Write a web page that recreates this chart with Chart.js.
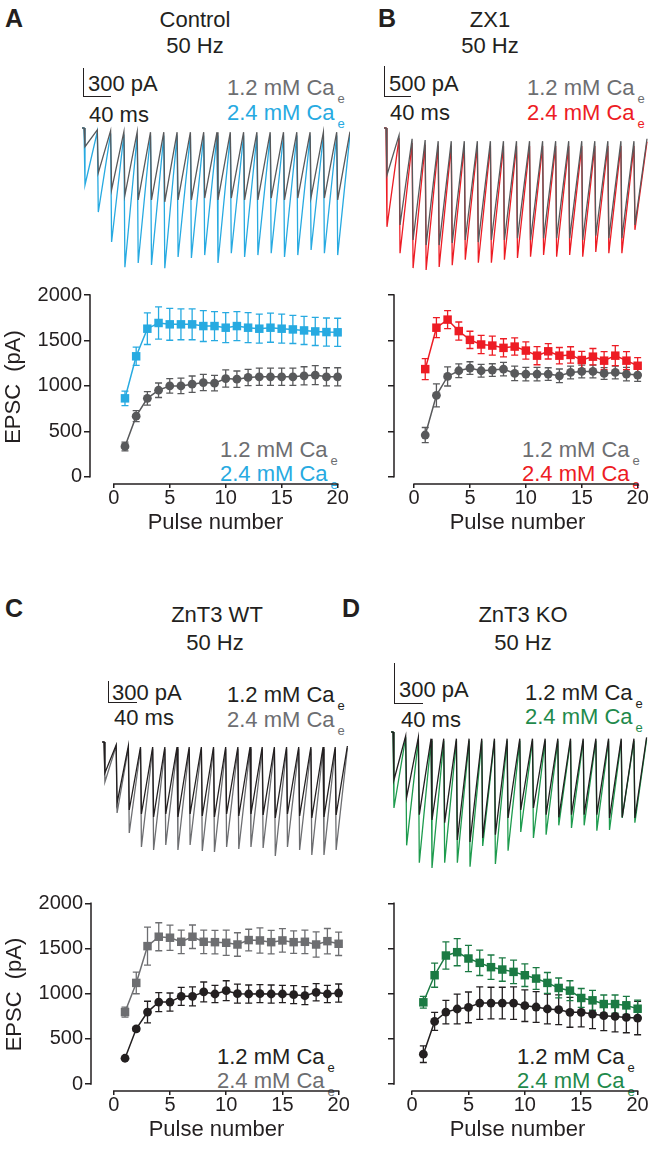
<!DOCTYPE html>
<html>
<head>
<meta charset="utf-8">
<script src="https://cdn.jsdelivr.net/npm/chart.js@4.4.0/dist/chart.umd.min.js"></script>
<style>
html, body { margin: 0; padding: 0; background: #fff; }
body { width: 652px; height: 1169px; position: relative; overflow: hidden;
       font-family: "Liberation Sans", Arial, sans-serif; color: #231f20; }
canvas { position: absolute; }
.t { position: absolute; white-space: nowrap; line-height: 1; font-size: 22px; transform: translateY(-50%); }
.c { transform: translate(-50%, -50%); }
.letter { font-weight: bold; font-size: 25px; }
.sub { font-size: 13px; position: relative; top: 8px; margin-left: 3px; }
.bar { position: absolute; border-left: 1.5px solid #231f20; border-bottom: 1.5px solid #231f20; }
</style>
</head>
<body>

<!-- panel A -->
<div class="t letter" style="left:5px;top:18px">A</div>
<div class="t c" style="left:195px;top:20px">Control</div>
<div class="t c" style="left:195px;top:46px">50 Hz</div>
<div class="bar" style="left:83px;top:68px;width:27px;height:28px"></div>
<div class="t" style="left:88px;top:84px">300 pA</div>
<div class="t" style="left:89px;top:115px">40 ms</div>
<div class="t" style="left:227px;top:88px;color:#6d6e71">1.2 mM Ca<span class="sub">e</span></div>
<div class="t" style="left:227px;top:113px;color:#27aae1">2.4 mM Ca<span class="sub">e</span></div>
<div class="t" style="left:220px;top:450px;color:#6d6e71">1.2 mM Ca<span class="sub">e</span></div>
<div class="t" style="left:220px;top:474px;color:#27aae1">2.4 mM Ca<span class="sub">e</span></div>

<!-- panel B -->
<div class="t letter" style="left:378px;top:18px">B</div>
<div class="t c" style="left:490px;top:20px">ZX1</div>
<div class="t c" style="left:490px;top:46px">50 Hz</div>
<div class="bar" style="left:384px;top:66px;width:26px;height:30px"></div>
<div class="t" style="left:389px;top:84px">500 pA</div>
<div class="t" style="left:390px;top:113px">40 ms</div>
<div class="t" style="left:527px;top:88px;color:#6d6e71">1.2 mM Ca<span class="sub">e</span></div>
<div class="t" style="left:527px;top:113px;color:#ed1c24">2.4 mM Ca<span class="sub">e</span></div>
<div class="t" style="left:522px;top:450px;color:#6d6e71">1.2 mM Ca<span class="sub">e</span></div>
<div class="t" style="left:522px;top:474px;color:#ed1c24">2.4 mM Ca<span class="sub">e</span></div>

<!-- panel C -->
<div class="t letter" style="left:5px;top:608px">C</div>
<div class="t c" style="left:217px;top:615px">ZnT3 WT</div>
<div class="t c" style="left:215px;top:643px">50 Hz</div>
<div class="bar" style="left:108px;top:681px;width:28px;height:21px"></div>
<div class="t" style="left:112px;top:693px">300 pA</div>
<div class="t" style="left:114px;top:718px">40 ms</div>
<div class="t" style="left:227px;top:695px">1.2 mM Ca<span class="sub">e</span></div>
<div class="t" style="left:227px;top:720px;color:#6d6e71">2.4 mM Ca<span class="sub">e</span></div>
<div class="t" style="left:217px;top:1057px">1.2 mM Ca<span class="sub">e</span></div>
<div class="t" style="left:217px;top:1081px;color:#6d6e71">2.4 mM Ca<span class="sub">e</span></div>

<!-- panel D -->
<div class="t letter" style="left:342px;top:608px">D</div>
<div class="t c" style="left:523px;top:615px">ZnT3 KO</div>
<div class="t c" style="left:523px;top:643px">50 Hz</div>
<div class="bar" style="left:394px;top:663px;width:28px;height:40px"></div>
<div class="t" style="left:399px;top:690px">300 pA</div>
<div class="t" style="left:401px;top:720px">40 ms</div>
<div class="t" style="left:525px;top:693px">1.2 mM Ca<span class="sub">e</span></div>
<div class="t" style="left:525px;top:717px;color:#1f8a4c">2.4 mM Ca<span class="sub">e</span></div>
<div class="t" style="left:517px;top:1057px">1.2 mM Ca<span class="sub">e</span></div>
<div class="t" style="left:517px;top:1081px;color:#1f8a4c">2.4 mM Ca<span class="sub">e</span></div>

<script>
// EPSC amplitude vs pulse number (50 Hz trains), four conditions.
const pulses = [1, 2, 3, 4, 5, 6, 7, 8, 9, 10, 11, 12, 13, 14, 15, 16, 17, 18, 19, 20];
const xTicks = [0, 5, 10, 15, 20];
const yTicks = [0, 500, 1000, 1500, 2000];

// A: control
const ctlLow     = [333, 667, 863, 952, 1000, 1000, 1019, 1037, 1030, 1081, 1074, 1093, 1100, 1100, 1100, 1100, 1111, 1119, 1100, 1100];
const ctlLowErr  = [48, 60, 75, 80, 80, 85, 90, 90, 85, 95, 90, 90, 95, 95, 95, 95, 100, 105, 100, 100];
const ctlHigh    = [863, 1326, 1630, 1693, 1678, 1678, 1678, 1659, 1659, 1641, 1659, 1641, 1630, 1641, 1630, 1622, 1611, 1600, 1593, 1590];
const ctlHighErr = [80, 100, 174, 178, 175, 170, 170, 170, 160, 165, 160, 165, 160, 160, 160, 155, 155, 155, 155, 155];

// B: ZX1
const zx1Low     = [459, 896, 1104, 1167, 1196, 1167, 1174, 1185, 1137, 1130, 1130, 1130, 1111, 1148, 1159, 1159, 1137, 1148, 1130, 1119];
const zx1LowErr  = [83, 126, 105, 75, 70, 70, 70, 75, 80, 75, 75, 70, 75, 70, 70, 70, 65, 70, 75, 70];
const zx1High    = [1185, 1641, 1730, 1604, 1507, 1456, 1444, 1419, 1433, 1389, 1333, 1381, 1333, 1341, 1285, 1322, 1278, 1333, 1278, 1222];
const zx1HighErr = [115, 110, 100, 100, 95, 100, 105, 100, 95, 95, 100, 85, 90, 90, 95, 90, 100, 110, 100, 90];

// C: ZnT3 WT
const wtLow      = [285, 611, 796, 907, 907, 970, 970, 1019, 996, 1033, 1000, 996, 1000, 996, 996, 989, 978, 1015, 996, 1007];
const wtLowErr   = [10, 25, 120, 105, 100, 100, 105, 110, 95, 110, 105, 100, 100, 100, 95, 100, 100, 95, 95, 100];
const wtHigh     = [796, 1119, 1526, 1630, 1619, 1574, 1630, 1574, 1570, 1563, 1544, 1593, 1589, 1570, 1589, 1570, 1574, 1544, 1581, 1552];
const wtHighErr  = [55, 120, 210, 155, 140, 130, 130, 130, 130, 140, 130, 120, 140, 130, 130, 125, 130, 140, 140, 130];

// D: ZnT3 KO
const koLow      = [330, 693, 796, 830, 848, 896, 896, 896, 896, 867, 852, 830, 822, 793, 793, 774, 756, 748, 737, 730];
const koLowErr   = [92, 100, 130, 165, 170, 180, 175, 175, 180, 175, 170, 165, 165, 165, 160, 160, 165, 170, 170, 185];
const koHigh     = [904, 1204, 1422, 1459, 1389, 1341, 1293, 1267, 1241, 1204, 1167, 1119, 1063, 1033, 952, 926, 885, 885, 870, 833];
const koHighErr  = [65, 133, 150, 150, 145, 140, 135, 130, 130, 125, 120, 115, 110, 110, 105, 110, 100, 100, 100, 95];

// Example traces: level before each pulse and peak of each EPSC (pA)
const isiMs = 20;      // 50 Hz
const riseMs = 1.5;
const trCtlLowBase  = [0, -20, -30, -40, -40, -45, -45, -45, -45, -45, -45, -45, -45, -45, -45, -45, -45, -45, -45, -45];
const trCtlLowPeak  = [-200, -480, -660, -720, -770, -770, -790, -770, -770, -750, -770, -750, -770, -770, -750, -770, -750, -740, -750, -770];
const trCtlHighBase = [0, -40, -60, -70, -80, -80, -80, -80, -80, -80, -80, -80, -80, -80, -80, -80, -80, -80, -80, -80];
const trCtlHighPeak = [-610, -900, -1220, -1490, -1445, -1465, -1500, -1380, -1390, -1360, -1445, -1340, -1380, -1360, -1340, -1380, -1360, -1305, -1340, -1360];

const trZxLowBase   = [0, -120, -180, -200, -220, -220, -220, -220, -220, -220, -220, -220, -220, -220, -220, -220, -220, -220, -220, -220];
const trZxLowPeak   = [-785, -1620, -1870, -1955, -1955, -1920, -1870, -1905, -1870, -1870, -1840, -1870, -1840, -1840, -1840, -1870, -1800, -1840, -1840, -1620];
const trZxHighBase  = [0, -170, -250, -280, -300, -300, -300, -300, -300, -300, -300, -300, -300, -300, -300, -300, -300, -300, -300, -300];
const trZxHighPeak  = [-1650, -2090, -2340, -2370, -2320, -2290, -2200, -2250, -2250, -2200, -2170, -2150, -2120, -2150, -2120, -2150, -2070, -2090, -2090, -1700];

const trWtLowBase   = [0, -45, -60, -75, -75, -75, -75, -75, -75, -75, -75, -75, -75, -75, -75, -75, -75, -75, -75, -75];
const trWtLowPeak   = [-465, -915, -1020, -1080, -1125, -1080, -1125, -1080, -1110, -1125, -1080, -1110, -1080, -1095, -1140, -1080, -1110, -1140, -1125, -1095];
const trWtHighBase  = [0, -60, -90, -105, -105, -105, -105, -105, -105, -105, -105, -105, -105, -105, -105, -105, -105, -105, -105, -105];
const trWtHighPeak  = [-600, -1065, -1365, -1575, -1620, -1545, -1620, -1545, -1635, -1650, -1575, -1605, -1575, -1590, -1710, -1575, -1620, -1695, -1695, -1620];

const trKoLowBase   = [0, -30, -40, -50, -50, -50, -50, -50, -50, -50, -50, -50, -50, -50, -50, -50, -50, -50, -50, -50];
const trKoLowPeak   = [-360, -490, -620, -660, -680, -810, -825, -795, -770, -645, -585, -570, -620, -640, -620, -620, -620, -645, -640, -645];
const trKoHighBase  = [0, -40, -55, -65, -65, -65, -65, -65, -65, -65, -65, -65, -65, -65, -65, -65, -65, -65, -65, -65];
const trKoHighPeak  = [-570, -850, -980, -1020, -980, -980, -1010, -855, -990, -890, -750, -795, -770, -700, -720, -700, -740, -735, -645, -680];

const ink = '#231f20';
const greyDark = '#58595b';
const greyMid = '#6d6e71';
const blue = '#27aae1';
const red = '#ed1c24';
const green = '#1b7a43';
const greenTrace = '#1e9b4e';

Chart.defaults.font.family = '"Liberation Sans", Arial, sans-serif';

function addCanvas(left, top, w, h) {
    const cv = document.createElement('canvas');
    cv.width = Math.round(w); cv.height = Math.round(h);
    cv.style.left = Math.round(left) + 'px';
    cv.style.top = Math.round(top) + 'px';
    cv.style.width = Math.round(w) + 'px';
    cv.style.height = Math.round(h) + 'px';
    document.body.appendChild(cv);
    return cv;
}

// mean +/- SEM bars, drawn under the points
const errorBars = {
    id: 'errorBars',
    beforeDatasetsDraw(chart) {
        const { ctx, scales: { x, y } } = chart;
        chart.data.datasets.forEach(ds => {
            if (!ds.errors) return;
            ctx.save();
            ctx.strokeStyle = ds.borderColor;
            ctx.lineWidth = 1.3;
            ds.data.forEach((p, i) => {
                const px = x.getPixelForValue(p.x);
                const hi = y.getPixelForValue(p.y + ds.errors[i]);
                const lo = y.getPixelForValue(p.y - ds.errors[i]);
                ctx.beginPath();
                ctx.moveTo(px, hi); ctx.lineTo(px, lo);
                ctx.moveTo(px - 3.5, hi); ctx.lineTo(px + 3.5, hi);
                ctx.moveTo(px - 3.5, lo); ctx.lineTo(px + 3.5, lo);
                ctx.stroke();
            });
            ctx.restore();
        });
    }
};

// detached axis lines, spanning only first..last tick
const axisLines = {
    id: 'axisLines',
    afterDraw(chart) {
        const { ctx, chartArea, scales: { x, y } } = chart;
        ctx.save();
        ctx.strokeStyle = ink;
        ctx.lineWidth = 1.5;
        ctx.beginPath();
        ctx.moveTo(chartArea.left, y.getPixelForValue(yTicks[0]) + 0.75);
        ctx.lineTo(chartArea.left, y.getPixelForValue(yTicks[yTicks.length - 1]) - 0.75);
        ctx.moveTo(x.getPixelForValue(xTicks[0]) - 0.75, chartArea.bottom);
        ctx.lineTo(x.getPixelForValue(xTicks[xTicks.length - 1]) + 0.75, chartArea.bottom);
        ctx.stroke();
        ctx.restore();
    }
};

function makePlot(b, sets, withLabels) {
    const yW = withLabels ? 90 : 20, padT = 20, padR = 15, xH = 50;
    const R = b.x0 + 20.3 * b.s;
    const cv = addCanvas(b.L - yW, b.top - padT, yW + (R - b.L) + padR, padT + (b.axisY - b.top) + xH);
    new Chart(cv, {
        type: 'line',
        data: {
            datasets: sets.map(st => ({
                data: pulses.map((p, i) => ({ x: p, y: st.values[i] })),
                errors: st.errors,
                borderColor: st.color, backgroundColor: st.color,
                borderWidth: 1.5,
                pointStyle: st.shape,
                pointRadius: st.shape === 'rect' ? 6 : 4.4,
                pointBorderWidth: 0,
                clip: false
            }))
        },
        options: {
            responsive: false, animation: false, events: [],
            layout: { padding: { left: 0, top: padT, right: padR, bottom: 0 } },
            plugins: { legend: { display: false }, tooltip: { enabled: false } },
            scales: {
                x: {
                    type: 'linear',
                    min: (b.L - b.x0) / b.s, max: (R - b.x0) / b.s,
                    afterBuildTicks: s => { s.ticks = xTicks.map(v => ({ value: v })); },
                    afterFit: s => { s.height = xH; },
                    border: { display: false },
                    grid: { drawOnChartArea: false, drawTicks: true, tickLength: 4, color: ink, lineWidth: 1.5 },
                    ticks: { color: ink, font: { size: 20, lineHeight: 1 }, padding: 0, autoSkip: false, maxRotation: 0,
                             callback: v => String(v) },
                    title: { display: true, text: 'Pulse number', color: ink, font: { size: 22, lineHeight: 1 }, padding: { top: 0, bottom: 0 } }
                },
                y: {
                    min: -(b.axisY - b.y0) / b.k, max: (b.y0 - b.top) / b.k,
                    afterBuildTicks: s => { s.ticks = yTicks.map(v => ({ value: v })); },
                    afterFit: s => { s.width = yW; },
                    border: { display: false },
                    grid: { drawOnChartArea: false, drawTicks: true, tickLength: 6, color: ink, lineWidth: 1.5 },
                    ticks: { color: withLabels ? ink : 'rgba(0,0,0,0)', font: { size: 20 }, padding: 2,
                             callback: v => String(v) },
                    title: { display: withLabels, text: 'EPSC  (pA)', color: ink, font: { size: 22 }, padding: { top: 1, bottom: 0 } }
                }
            }
        },
        plugins: [errorBars, axisLines]
    });
}

function tracePoints(base, peak, end) {
    const pts = [{ x: -3, y: 0 }];
    base.forEach((lvl, i) => {
        const t = i * isiMs;
        pts.push({ x: t, y: lvl }, { x: t + riseMs, y: peak[i] });
    });
    pts.push({ x: base.length * isiMs, y: end });
    return pts;
}

function makeTraces(b, traces) {
    const cv = addCanvas(b.left, b.top, b.right - b.left, b.bottom - b.top);
    new Chart(cv, {
        type: 'line',
        data: {
            datasets: traces.map(tr => ({
                data: tracePoints(tr.base, tr.peak, tr.end),
                borderColor: tr.color, borderWidth: 1.3,
                pointRadius: 0, tension: 0, clip: false
            }))
        },
        options: {
            responsive: false, animation: false, events: [],
            layout: { padding: 0 },
            plugins: { legend: { display: false }, tooltip: { enabled: false } },
            scales: {
                x: { type: 'linear', display: false, min: (b.left - b.t0) / b.pxMs, max: (b.right - b.t0) / b.pxMs },
                y: { display: false, min: -(b.bottom - b.y0) / b.pxPA, max: (b.y0 - b.top) / b.pxPA }
            }
        }
    });
}

// ---- traces (1.2 mM listed first so it is drawn on top)
makeTraces({ left: 78, right: 350, top: 120, bottom: 275, t0: 84, pxMs: 0.665, y0: 128, pxPA: 1 / 10.7 }, [
    { base: trCtlLowBase, peak: trCtlLowPeak, end: -40, color: greyDark },
    { base: trCtlHighBase, peak: trCtlHighPeak, end: -70, color: blue }
]);
makeTraces({ left: 378, right: 650, top: 120, bottom: 275, t0: 386, pxMs: 0.6525, y0: 128, pxPA: 1 / 16.7 }, [
    { base: trZxLowBase, peak: trZxLowPeak, end: -180, color: greyDark },
    { base: trZxHighBase, peak: trZxHighPeak, end: -230, color: red }
]);
makeTraces({ left: 96, right: 348, top: 734, bottom: 865, t0: 104, pxMs: 0.6085, y0: 742, pxPA: 1 / 15 }, [
    { base: trWtLowBase, peak: trWtLowPeak, end: -60, color: ink },
    { base: trWtHighBase, peak: trWtHighPeak, end: -90, color: greyMid }
]);
makeTraces({ left: 386, right: 648, top: 724, bottom: 875, t0: 393, pxMs: 0.634, y0: 732, pxPA: 1 / 7.5 }, [
    { base: trKoLowBase, peak: trKoLowPeak, end: -40, color: ink },
    { base: trKoHighBase, peak: trKoHighPeak, end: -55, color: greenTrace }
]);

// ---- summary plots
makePlot({ L: 90, x0: 113.8, s: 11.2, top: 290, y0: 476.7, k: 0.0908, axisY: 484 }, [
    { values: ctlLow, errors: ctlLowErr, color: greyDark, shape: 'circle' },
    { values: ctlHigh, errors: ctlHighErr, color: blue, shape: 'rect' }
], true);
makePlot({ L: 394, x0: 414.1, s: 11.2, top: 290, y0: 476.7, k: 0.0908, axisY: 484 }, [
    { values: zx1Low, errors: zx1LowErr, color: greyDark, shape: 'circle' },
    { values: zx1High, errors: zx1HighErr, color: red, shape: 'rect' }
], false);
makePlot({ L: 91, x0: 113.8, s: 11.25, top: 898, y0: 1084, k: 0.09035, axisY: 1091 }, [
    { values: wtLow, errors: wtLowErr, color: ink, shape: 'circle' },
    { values: wtHigh, errors: wtHighErr, color: greyMid, shape: 'rect' }
], true);
makePlot({ L: 394, x0: 412.1, s: 11.3, top: 898, y0: 1084, k: 0.09035, axisY: 1091 }, [
    { values: koLow, errors: koLowErr, color: ink, shape: 'circle' },
    { values: koHigh, errors: koHighErr, color: green, shape: 'rect' }
], false);
</script>
</body>
</html>
